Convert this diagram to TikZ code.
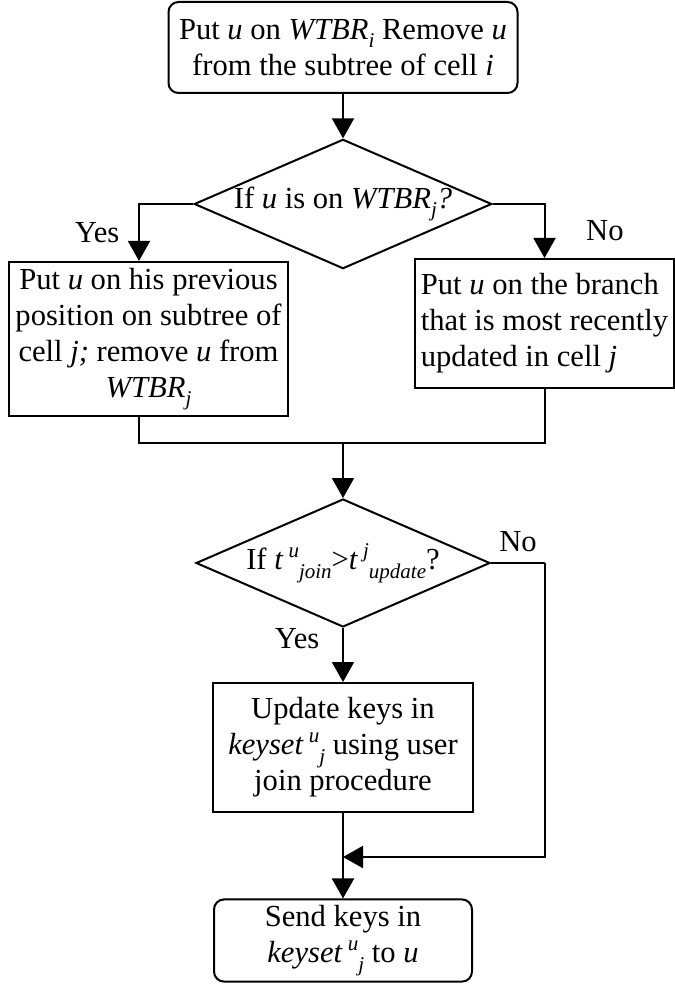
\documentclass[tikz,border=0pt]{standalone}
\usepackage{fontspec}
\setmainfont{Liberation Serif}
\usetikzlibrary{shapes.geometric,arrows.meta,positioning}
\newcommand{\lowsub}[1]{\raisebox{-0.6ex}{\fontsize{10.5pt}{10.5pt}\selectfont\textit{#1}}}
\newcommand{\highsup}[1]{\raisebox{0.9ex}{\fontsize{10.5pt}{10.5pt}\selectfont\textit{#1}}}

\begin{document}
\begin{tikzpicture}[node distance=2cm,on grid,line width=1pt,
    font=\fontsize{15.3pt}{18pt}\selectfont,
    >={Triangle[width=11pt,length=10pt]},
    proc/.style={draw,rectangle,align=center,inner sep=3pt},
    term/.style={proc,rounded corners=5pt},
    decision/.style={draw,diamond,aspect=2.3,inner sep=0pt,
      minimum width=147pt,minimum height=64pt}]
   \useasboundingbox (0,0) rectangle (337pt,-492pt);
   \node[term,minimum width=174.5pt,minimum height=45.5pt] (start) at (171.5pt,-23.75pt)
     {Put \textit{u} on \textit{WTBR}\lowsub{i} Remove \textit{u}\\ from the subtree of cell \textit{i}};
   \node[decision] (ifwtbr) [below=78.25pt of start]
     {If \textit{u} is on \textit{WTBR}\lowsub{j}\textit{?}};
   \node[proc,minimum width=138.5pt,minimum height=74pt] (back) [below left=67.5pt and 97.25pt of ifwtbr]
     {Put \textit{u} on his previous\\ position on subtree of\\ cell \textit{j;} remove \textit{u} from\\ \textit{WTBR}\lowsub{j}};
   \node[proc,align=left,minimum width=129.5pt,minimum height=64.5pt] (branch) [below right=59.75pt and 100.75pt of ifwtbr]
     {Put \textit{u} on the branch\\ that is most recently\\ updated in cell \textit{j}};
   \coordinate[below=119.5pt of ifwtbr] (merge);
   \node[decision] (ifjoin) [below=179.5pt of ifwtbr]
     {If \textit{t}\,\highsup{u}\lowsub{join}>\textit{t}\,\highsup{j}\lowsub{update}?};
   \coordinate[right=101pt of ifjoin] (skip);
   \node[proc,minimum width=130pt,minimum height=64.5pt] (update) [below=92.25pt of ifjoin]
     {Update keys in\\ \textit{keyset}\,\highsup{u}\lowsub{j} using user\\ join procedure};
   \coordinate[below=54.75pt of update] (join);
   \node[term,minimum width=129pt,minimum height=36.5pt] (send) [below=96.5pt of update]
     {Send keys in\\ \textit{keyset}\,\highsup{u}\lowsub{j} to \textit{u}};
    \draw[->] (start) -- (ifwtbr);
    \draw[->] (ifwtbr.west) -| node[pos=0.75,left=6pt] {Yes} ([xshift=-4.75pt]back.north);
    \draw[->] (ifwtbr.east) -| node[pos=0.75,right=17pt] {No} (branch.north);
    \draw ([xshift=-4.75pt]back.south) |- (merge) -| (branch.south);
    \draw[->] (merge) -- (ifjoin);
    \draw[->] (ifjoin) -- node[pos=0.2,left=8pt] {Yes} (update);
    \draw (ifjoin.east) -- node[above=2pt] {No} (skip);
    \draw[->] (skip) |- (join);
    \draw[->] (update) -- (send);
\end{tikzpicture}
\end{document}
